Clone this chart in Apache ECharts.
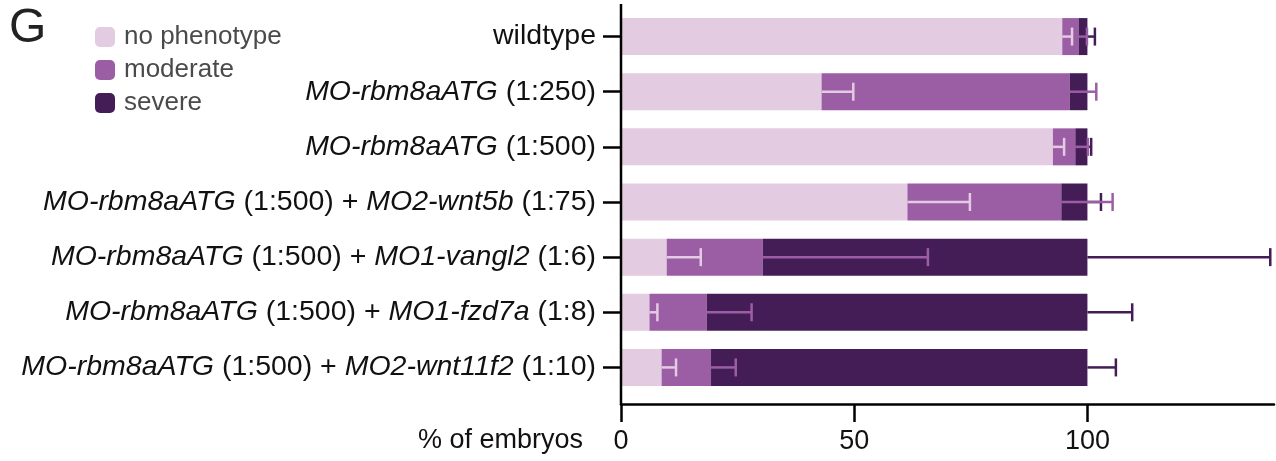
<!DOCTYPE html>
<html>
<head>
<meta charset="utf-8">
<script src="https://cdn.jsdelivr.net/npm/echarts@6/dist/echarts.min.js"></script>
<style>html,body{margin:0;padding:0;background:#fff;}#c{width:1276px;height:461px;}</style>
</head>
<body>
<div id="c"></div>
<script>
const categories = [
  'wildtype',
  '{i|MO-rbm8aATG} (1:250)',
  '{i|MO-rbm8aATG} (1:500)',
  '{i|MO-rbm8aATG} (1:500) + {i|MO2-wnt5b} (1:75)',
  '{i|MO-rbm8aATG} (1:500) + {i|MO1-vangl2} (1:6)',
  '{i|MO-rbm8aATG} (1:500) + {i|MO1-fzd7a} (1:8)',
  '{i|MO-rbm8aATG} (1:500) + {i|MO2-wnt11f2} (1:10)'
];
const noPhenotype = [94.6, 43.0, 92.6, 61.4, 9.8, 6.1, 8.7];
const moderate    = [3.5, 53.2, 4.8, 33.0, 20.6, 12.3, 10.6];
const severe      = [1.9, 3.8, 2.6, 5.6, 69.6, 81.6, 80.7];
const noPhenotypeSD = [2.1, 6.8, 2.4, 13.4, 7.3, 1.7, 3.1];
const moderateSD    = [1.8, 5.7, 2.7, 11.0, 35.4, 9.6, 5.3];
const severeSD      = [1.6, 0.0, 0.8, 2.9, 39.2, 9.6, 6.1];
const xTicks = [0, 50, 100];

const C_LIGHT = '#e3cbe1', C_MID = '#9b5ea5', C_DARK = '#441d57';
const FONT = 'Liberation Sans, Arial, sans-serif';

const end1 = noPhenotype.map(v => v);
const end2 = noPhenotype.map((v, i) => v + moderate[i]);
const end3 = noPhenotype.map((v, i) => v + moderate[i] + severe[i]);

function errData(ends, sds) {
  return ends.map((e, i) => [i, e, e + sds[i]]);
}
function errSeries(name, color, data) {
  return {
    type: 'custom', name: name, z: 5, silent: true,
    encode: { x: [1, 2], y: 0 },
    data: data,
    renderItem: function (params, api) {
      const y = api.value(0);
      const p0 = api.coord([api.value(1), y]);
      const p1 = api.coord([api.value(2), y]);
      if (p1[0] - p0[0] < 0.5) return null;
      const h = 18;
      return {
        type: 'group',
        children: [
          { type: 'line', shape: { x1: p0[0], y1: p0[1], x2: p1[0], y2: p1[1] }, style: { stroke: color, lineWidth: 2.5 } },
          { type: 'line', shape: { x1: p1[0], y1: p1[1] - h / 2, x2: p1[0], y2: p1[1] + h / 2 }, style: { stroke: color, lineWidth: 2.5 } }
        ]
      };
    }
  };
}

const chart = echarts.init(document.getElementById('c'));
chart.setOption({
  animation: false,
  backgroundColor: '#fff',
  title: { text: 'G', left: 4, top: 0, textStyle: { fontSize: 48, fontWeight: 'normal', color: '#222', fontFamily: FONT } },
  legend: {
    orient: 'vertical', left: 90, top: 19, itemWidth: 20, itemHeight: 20, itemGap: 7,
    data: ['no phenotype', 'moderate', 'severe'],
    textStyle: { fontSize: 26, color: '#4a4a4a', fontFamily: FONT, padding: [0, 0, 0, 4] },
    selectedMode: false
  },
  grid: { left: 621, right: 2, top: 9, bottom: 66, containLabel: false },
  xAxis: {
    type: 'value', min: 0, max: 140, interval: 50, offset: 9,
    splitLine: { show: false },
    axisLine: { show: true, lineStyle: { color: '#000', width: 2.5 } },
    axisTick: { show: true, length: 18, customValues: xTicks, lineStyle: { color: '#000', width: 2.5 } },
    axisLabel: { customValues: xTicks, margin: 24, fontSize: 27, color: '#111', fontFamily: FONT }
  },
  yAxis: {
    type: 'category', inverse: true, data: categories,
    axisLine: { show: false },
    axisTick: { show: true, alignWithLabel: true, length: 18, lineStyle: { color: '#000', width: 2.5 } },
    axisLabel: {
      margin: 25, fontSize: 28.5, color: '#111', fontFamily: FONT,
      rich: { i: { fontStyle: 'italic', fontSize: 28.5, color: '#111', fontFamily: FONT } }
    }
  },
  graphic: [
    { type: 'line', z: 10, shape: { x1: 621, y1: 4, x2: 621, y2: 405 }, style: { stroke: '#000', lineWidth: 2.5 } },
    { type: 'text', z: 10, x: 583, y: 441, style: { text: '% of embryos', align: 'right', verticalAlign: 'middle', fontSize: 27, fill: '#111', fontFamily: FONT } }
  ],
  series: [
    { name: 'no phenotype', type: 'bar', stack: 's', barWidth: 37, itemStyle: { color: C_LIGHT }, data: noPhenotype },
    { name: 'moderate', type: 'bar', stack: 's', barWidth: 37, itemStyle: { color: C_MID }, data: moderate },
    { name: 'severe', type: 'bar', stack: 's', barWidth: 37, itemStyle: { color: C_DARK }, data: severe },
    errSeries('errSevere', C_DARK, errData(end3, severeSD)),
    errSeries('errModerate', C_MID, errData(end2, moderateSD)),
    errSeries('errNo', C_LIGHT, errData(end1, noPhenotypeSD))
  ]
});
</script>
</body>
</html>
